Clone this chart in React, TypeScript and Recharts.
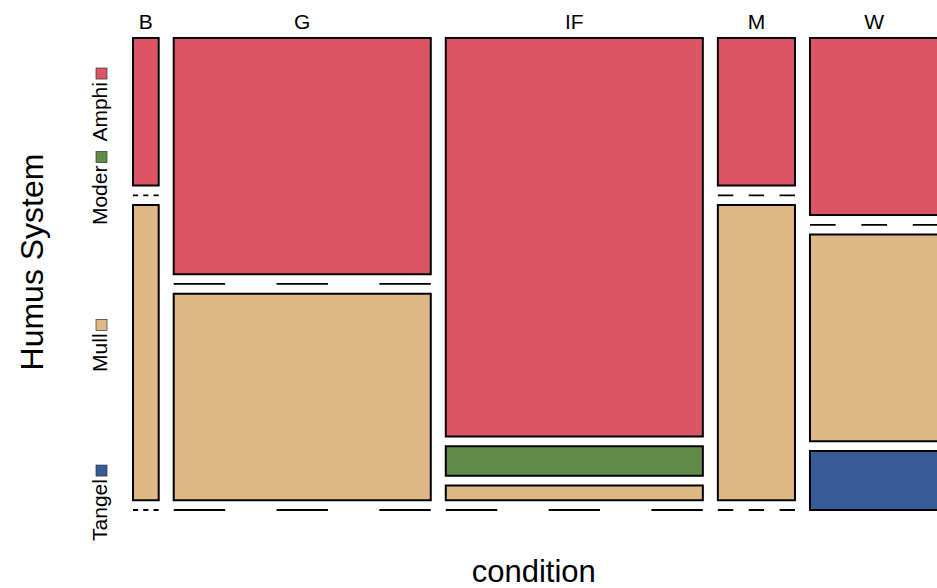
import React from 'react'
import { ComposedChart, XAxis, YAxis, ReferenceArea, ReferenceLine, Scatter } from 'recharts'

const conditions = ['B', 'G', 'IF', 'M', 'W']
const humusLevels = ['Amphi', 'Moder', 'Mull', 'Tangel']

// counts per condition (columns) for each humus system (rows)
const amphi = [1, 16, 27, 3, 6]
const moder = [0, 0, 2, 0, 0]
const mull = [2, 14, 1, 6, 7]
const tangel = [0, 0, 0, 0, 2]

const levelColors = ['#DB5565', '#638B48', '#DEB887', '#365B95']

const FONT = '"Liberation Sans", Arial, Helvetica, sans-serif'
const GAP_X = 1.75 // space between columns, count units
const GAP_Y = 0.022 // space between tiles, share of column height

const counts = [amphi, moder, mull, tangel]
const colTotals = conditions.map((_, j) => counts.reduce((s, row) => s + row[j], 0))
const colStart = colTotals.map((_, j) => colTotals.slice(0, j).reduce((a, b) => a + b, 0) + j * GAP_X)
const xMax = colStart[colStart.length - 1] + colTotals[colTotals.length - 1]
const yMax = 1 + GAP_Y * (humusLevels.length - 1)

const tiles: any[] = []
conditions.forEach((c, j) => {
  let y = 0
  humusLevels.forEach((h, i) => {
    const frac = counts[i][j] / colTotals[j]
    tiles.push({
      key: `${c}-${h}`,
      col: j,
      level: i,
      x1: colStart[j],
      x2: colStart[j] + colTotals[j],
      y1: y,
      y2: y + frac,
      cx: colStart[j] + colTotals[j] / 2,
      cy: y + frac / 2,
      zero: counts[i][j] === 0
    })
    y += frac + GAP_Y
  })
})

const colCenters = conditions.map((_, j) => colStart[j] + colTotals[j] / 2)
// level labels sit on the tiles of the first column
const levelTicks = tiles.filter(t => t.col === 0).map(t => t.cy)

let measureCtx: CanvasRenderingContext2D | null = null
const textWidth = (s: string, size: number) => {
  if (!measureCtx) measureCtx = document.createElement('canvas').getContext('2d')
  if (!measureCtx) return s.length * size * 0.55
  measureCtx.font = `${size}px ${FONT}`
  return measureCtx.measureText(s).width
}

const ConditionTick = ({ x, payload, index }: any) => {
  let i = colCenters.indexOf(payload.value)
  if (i < 0) i = index
  return (
    <text x={x} y={29} textAnchor="middle" fontSize={21} fontFamily={FONT} fill="#000">
      {conditions[i]}
    </text>
  )
}

const LevelTick = ({ y, payload, index }: any) => {
  let i = levelTicks.indexOf(payload.value)
  if (i < 0) i = index
  const name = humusLevels[i]
  const w = textWidth(name, 21)
  const bx = 107
  const top = y - w / 2 - 3
  return (
    <g>
      <text
        x={bx}
        y={y}
        textAnchor="middle"
        fontSize={21}
        fontFamily={FONT}
        fill="#000"
        transform={`rotate(-90, ${bx}, ${y})`}
      >
        {name}
      </text>
      <rect x={bx - 11} y={top - 11} width={11} height={11} fill={levelColors[i]} stroke="#333" strokeWidth={0.7} />
    </g>
  )
}

const DashedZero = (props: any) => {
  const { x1, y1, x2, y2 } = props
  const d = Math.abs(x2 - x1) / 5
  return <line x1={x1} y1={y1} x2={x2} y2={y2} stroke="#000" strokeWidth={1.8} strokeDasharray={`${d} ${d}`} />
}

export default function App() {
  return (
    <div style={{ position: 'fixed', left: 0, top: 0, width: 937, height: 588, overflow: 'hidden', background: '#fff' }}>
      <ComposedChart width={945} height={588} margin={{ top: 0, right: 6.5, bottom: 0, left: 0 }}>
        <XAxis
          xAxisId="top"
          dataKey="cx"
          orientation="top"
          type="number"
          domain={[0, xMax]}
          ticks={colCenters}
          interval={0}
          height={38}
          axisLine={false}
          tickLine={false}
          tick={<ConditionTick />}
        />
        <XAxis
          xAxisId="bottom"
          dataKey="cx"
          orientation="bottom"
          type="number"
          domain={[0, xMax]}
          height={78}
          axisLine={false}
          tickLine={false}
          tick={false}
          label={{
            content: ({ viewBox }: any) => (
              <text x={viewBox.x + viewBox.width / 2 - 2} y={582} textAnchor="middle" fontSize={31} fontFamily={FONT} fill="#000">
                condition
              </text>
            )
          }}
        />
        <YAxis
          dataKey="cy"
          type="number"
          domain={[0, yMax]}
          reversed
          width={133}
          ticks={levelTicks}
          interval={0}
          axisLine={false}
          tickLine={false}
          tick={<LevelTick />}
          label={{
            content: ({ viewBox }: any) => {
              const cy = viewBox.y + viewBox.height / 2 - 12
              return (
                <text x={43} y={cy} textAnchor="middle" fontSize={32} fontFamily={FONT} fill="#000" transform={`rotate(-90, 43, ${cy})`}>
                  Humus System
                </text>
              )
            }
          }}
        />
        {tiles.filter(t => !t.zero).map(t => (
          <ReferenceArea
            key={t.key}
            xAxisId="top"
            x1={t.x1}
            x2={t.x2}
            y1={t.y1}
            y2={t.y2}
            fill={levelColors[t.level]}
            fillOpacity={1}
            stroke="#000"
            strokeWidth={2}
            ifOverflow="visible"
          />
        ))}
        {tiles.filter(t => t.zero).map(t => (
          <ReferenceLine
            key={t.key}
            xAxisId="top"
            segment={[{ x: t.x1, y: t.y1 }, { x: t.x2, y: t.y1 }]}
            ifOverflow="visible"
            shape={<DashedZero />}
          />
        ))}
        <Scatter
          xAxisId="top"
          data={tiles}
          dataKey="cy"
          isAnimationActive={false}
          shape={() => <g />}
        />
      </ComposedChart>
    </div>
  )
}
